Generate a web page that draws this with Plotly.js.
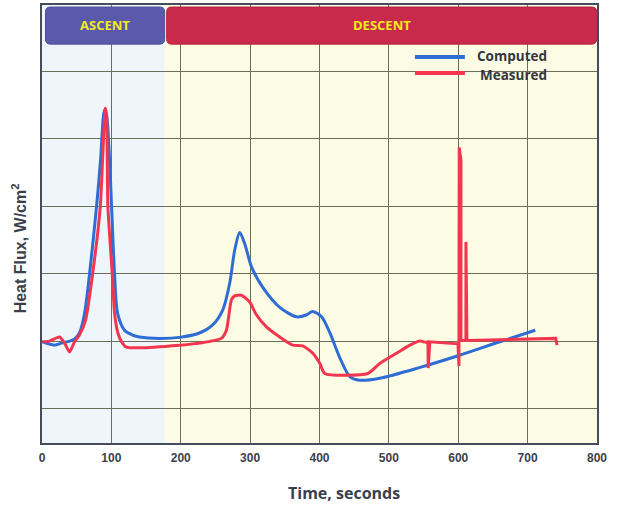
<!DOCTYPE html>
<html>
<head>
<meta charset="utf-8">
<script src="https://cdn.plot.ly/plotly-3.0.1.min.js"></script>
<style>
  html, body { margin: 0; padding: 0; background: #ffffff; }
  #chart { width: 617px; height: 507px; }
</style>
</head>
<body>
<div id="chart"></div>
<script>
// Heat flux history: computed vs. measured, ascent and descent phases
const computedTime = [0, 18, 28, 40, 47, 54, 61, 68.5, 78.6, 84.4, 90, 93, 97.4, 100.3, 104.6, 109, 119, 130.6, 140.7, 169.6,
  198.4, 227, 246, 260.5, 270.6, 277.8, 285, 292, 302, 318, 342.7, 367, 381.7, 390, 403, 415, 429, 444, 458, 487, 545, 602, 660, 711];
const computedFlux = [-0.1, -0.6, -0.3, 0, 0.3, 1.2, 3.9, 9.9, 19.9, 26.8, 34.2, 33.5, 26.8, 19.9, 9.9, 4.1, 1.6, 0.9, 0.6, 0.4,
  0.55, 1.2, 2.4, 4.6, 8.6, 13.5, 16.1, 14.5, 11.0, 8.0, 5.0, 3.6, 3.9, 4.4, 3.6, 1.2, -2.4, -5.3, -5.8, -5.5, -3.9, -2.1, -0.1, 1.6];

const measuredTime = [0.7, 10.8, 25.3, 32.5, 39.7, 46.9, 54, 62.8, 72.9, 84, 87.3, 91.2, 93, 95, 101.3, 104.6, 109.4, 114.7, 121.5, 140.7,
  198.4, 227.3, 258.6, 265.8, 273, 277.8, 287.4, 299.4, 309, 323.5, 342.7, 361.5, 375.9, 390.3, 400.4, 407.6, 469.7, 487, 511, 530.3,
  544.7, 552, 556.3, 556.7, 559, 599.6, 601, 601.4, 603.9, 603.9, 611, 611.1, 612.5, 740.5, 742.4];
const measuredFlux = [-0.1, 0, 0.6, -0.3, -1.6, -0.1, 0.9, 3.1, 9.9, 19.9, 26.8, 34.5, 33.5, 19.9, 9.9, 4.1, 1.2, -0.1, -0.9, -1.0,
  -0.6, -0.3, 0.4, 1.6, 6.1, 6.7, 6.8, 5.8, 3.9, 2.1, 0.6, -0.6, -0.7, -1.8, -3.3, -4.8, -4.8, -3.3, -1.8, -0.6,
  0.0, -0.2, -0.1, -4.0, -0.1, -0.4, -3.7, 28.7, 26.8, 0.1, 0.1, 14.7, 0.1, 0.4, -0.6];
// the measured record is smooth up to here, then shows sharp sensor spikes
const measuredSmoothEnd = 41;

const xTicks = [0, 100, 200, 300, 400, 500, 600, 700, 800];
const phaseNames = ["ASCENT", "DESCENT"];
const phaseStart = [0, 177];
const phaseEnd = [177, 800];
const seriesNames = ["Computed", "Measured"];

const blue = "#2f6cd4";
const red = "#f2364f";

// rounded rectangle in data units
function roundRect(x0, x1, y0, y1, rx, ry) {
  return `M ${x0 + rx},${y0} L ${x1 - rx},${y0} Q ${x1},${y0} ${x1},${y0 + ry} L ${x1},${y1 - ry} ` +
         `Q ${x1},${y1} ${x1 - rx},${y1} L ${x0 + rx},${y1} Q ${x0},${y1} ${x0},${y1 - ry} ` +
         `L ${x0},${y0 + ry} Q ${x0},${y0} ${x0 + rx},${y0} Z`;
}

const traces = [
  { x: computedTime, y: computedFlux, name: seriesNames[0], mode: "lines",
    line: { color: blue, width: 3, shape: "spline", smoothing: 0.8 } },
  { x: measuredTime.slice(0, measuredSmoothEnd + 1), y: measuredFlux.slice(0, measuredSmoothEnd + 1),
    name: seriesNames[1], mode: "lines",
    line: { color: red, width: 3, shape: "spline", smoothing: 0.6 } },
  { x: measuredTime.slice(measuredSmoothEnd), y: measuredFlux.slice(measuredSmoothEnd),
    name: seriesNames[1], mode: "lines",
    line: { color: red, width: 3 } }
];

const shapes = [
  // phase backgrounds
  { type: "rect", xref: "x", yref: "paper", x0: phaseStart[0], x1: phaseEnd[0], y0: 0, y1: 1,
    fillcolor: "#eef6fc", line: { width: 0 }, layer: "below" },
  { type: "rect", xref: "x", yref: "paper", x0: phaseStart[1], x1: phaseEnd[1], y0: 0, y1: 1,
    fillcolor: "#fcfce4", line: { width: 0 }, layer: "below" },
  // legend panel
  { type: "rect", xref: "paper", yref: "paper", x0: 0.654, x1: 0.997, y0: 0.811, y1: 0.905,
    fillcolor: "#fcfce4", line: { width: 0 }, layer: "between" },
  // phase banners
  { type: "path", xref: "x", yref: "y", path: roundRect(5, 176.8, 44, 49.5, 7, 0.75),
    fillcolor: "#5b5aaa", line: { color: "#4f4e9a", width: 1 }, layer: "above" },
  { type: "path", xref: "x", yref: "y", path: roundRect(179.7, 799.5, 44, 49.5, 7, 0.75),
    fillcolor: "#c92a4c", line: { color: "#b52242", width: 1 }, layer: "above" },
  // legend keys
  { type: "line", xref: "paper", yref: "paper", x0: 0.672, x1: 0.762, y0: 0.881, y1: 0.881,
    line: { color: blue, width: 4 }, layer: "above" },
  { type: "line", xref: "paper", yref: "paper", x0: 0.672, x1: 0.762, y0: 0.845, y1: 0.845,
    line: { color: red, width: 4 }, layer: "above" }
];

const annotations = [
  { text: phaseNames[0], xref: "x", yref: "y", x: (5 + 176.8) / 2, y: 46.8, showarrow: false,
    font: { family: "Open Sans", size: 13, color: "#f4ea1c", weight: "bold" } },
  { text: phaseNames[1], xref: "x", yref: "y", x: (179.7 + 800) / 2, y: 46.8, showarrow: false,
    font: { family: "Open Sans", size: 13, color: "#f4ea1c", weight: "bold" } },
  { text: seriesNames[0], xref: "paper", yref: "paper", x: 0.780, y: 0.883, xanchor: "left", yanchor: "middle",
    showarrow: false, font: { family: "Open Sans", size: 13.5, color: "#34363f", weight: "bold" } },
  { text: seriesNames[1], xref: "paper", yref: "paper", x: 0.785, y: 0.840, xanchor: "left", yanchor: "middle",
    showarrow: false, font: { family: "Open Sans", size: 13.5, color: "#34363f", weight: "bold" } },
  { text: "Time, seconds", xref: "paper", yref: "paper", x: 0.544, y: -0.114, xanchor: "center", yanchor: "middle",
    showarrow: false, font: { family: "Open Sans", size: 16, color: "#3a4050", weight: "bold" } },
  { text: "Heat Flux, W/cm<sup>2</sup>", xref: "paper", yref: "paper", x: -0.041, y: 0.445,
    xanchor: "center", yanchor: "middle", showarrow: false,
    textangle: -90, font: { family: "Liberation Sans", size: 16, color: "#3a3f4a", weight: "bold" } }
];

const layout = {
  width: 617, height: 507,
  margin: { l: 42, r: 20, t: 5, b: 64 },
  paper_bgcolor: "#ffffff",
  plot_bgcolor: "rgba(0,0,0,0)",
  showlegend: false,
  xaxis: {
    range: [0, 800], tickvals: xTicks, ticktext: xTicks.map(String),
    showgrid: true, gridcolor: "#6a6f5c", gridwidth: 1, zeroline: false,
    showline: true, linecolor: "#464c5c", linewidth: 2, mirror: true,
    ticks: "", ticklabelstandoff: 3,
    tickfont: { family: "Liberation Sans", size: 12, color: "#3c414c", weight: "bold" }
  },
  yaxis: {
    range: [-15.1, 49.8], tick0: 0, dtick: 10,
    showgrid: true, gridcolor: "#6a6f5c", gridwidth: 1, zeroline: false,
    showline: true, linecolor: "#464c5c", linewidth: 2, mirror: true,
    showticklabels: false, ticks: ""
  },
  shapes: shapes,
  annotations: annotations
};

Plotly.newPlot("chart", traces, layout, { displayModeBar: false, staticPlot: true });
</script>
</body>
</html>
